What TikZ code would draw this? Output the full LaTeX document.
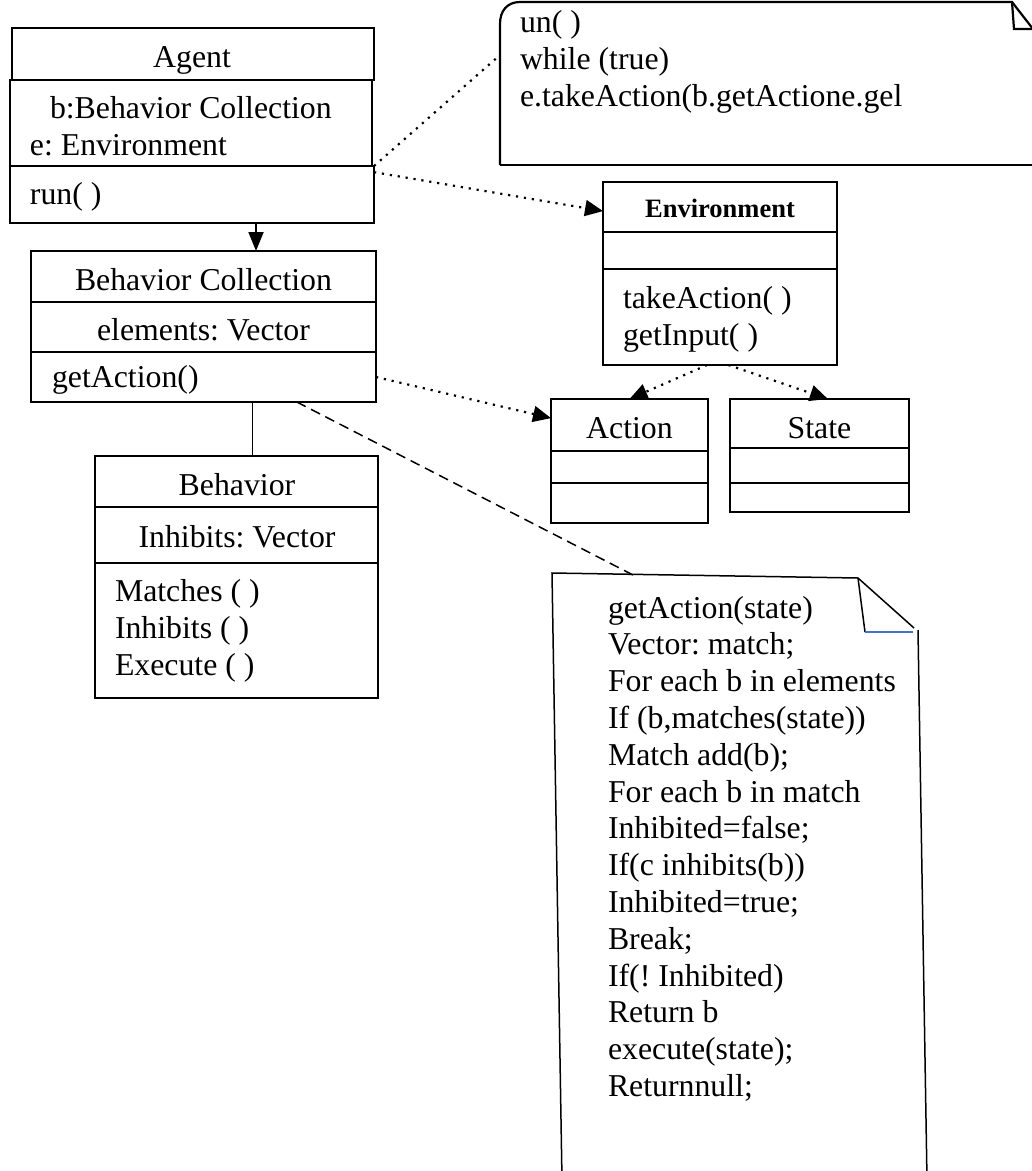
\documentclass[tikz,border=0pt]{standalone}
\usepackage{fontspec}
\setmainfont{Liberation Serif}
\usetikzlibrary{arrows.meta}
\frenchspacing

\begin{document}
\begin{tikzpicture}[x=1pt, y=-1pt]
\tikzstyle{every node}+=[inner sep=0pt, outer sep=0pt]
\tikzstyle{cls}=[draw, line width=1.4pt]
\tikzstyle{lbl}=[font=\fontsize{31.8}{37}\selectfont, anchor=base]
\tikzstyle{lblw}=[lbl, anchor=base west, align=left]
\tikzstyle{dep}=[line width=2.2pt, dash pattern=on 2.2pt off 5.8pt, -{Triangle[length=18pt, width=16pt]}]
\tikzstyle{note}=[line width=2.2pt]
\useasboundingbox (0,0) rectangle (1032,1171);
\clip (0,0) rectangle (1032,1171);

% Agent
\node[cls, minimum width=362pt, minimum height=52pt] (agentHead) at (193,54) {};
\node[cls, minimum width=362pt, minimum height=86pt] (agentAttr) at (191,123) {};
\node[cls, minimum width=364pt, minimum height=57pt] (agentOps) at (192,194.5) {};
\node[lbl] (agentName) at (192,67) {Agent};
\node[lblw] (agentB) at (50,118) {b:Behavior Collection};
\node[lblw] (agentE) at (30,155) {e: Environment};
\node[lblw] (agentRun) at (30,204) {run( )};

% Behavior Collection
\node[cls, minimum width=345pt, minimum height=51pt] (bcHead) at (203.5,276.5) {};
\node[cls, minimum width=345pt, minimum height=50pt] (bcAttr) at (203.5,327) {};
\node[cls, minimum width=345pt, minimum height=50pt] (bcOps) at (203.5,377) {};
\node[lbl] (bcName) at (203.5,290) {Behavior Collection};
\node[lbl] (bcElem) at (203.5,340) {elements: Vector};
\node[lblw] (bcGet) at (52,387) {getAction()};

% Behavior
\node[cls, minimum width=283pt, minimum height=51pt] (behHead) at (236.5,481.5) {};
\node[cls, minimum width=283pt, minimum height=56pt] (behAttr) at (236.5,535) {};
\node[cls, minimum width=283pt, minimum height=135pt] (behOps) at (236.5,630.5) {};
\node[lbl] (behName) at (237,495) {Behavior};
\node[lbl] (behInh) at (237,547) {Inhibits: Vector};
% base of a multi-line node is its last line
\node[lblw] (behMeth) at (115,675) {Matches ( )\\Inhibits ( )\\Execute ( )};

% Environment
\node[cls, minimum width=234pt, minimum height=50pt] (envHead) at (720,207) {};
\node[cls, minimum width=234pt, minimum height=37pt] (envAttr) at (720,250.5) {};
\node[cls, minimum width=234pt, minimum height=96pt] (envOps) at (720,317) {};
\node[lbl, font=\fontsize{26.5}{31}\selectfont\bfseries] (envName) at (720,217) {Environment};
\node[lblw] (envMeth) at (623,345) {takeAction( )\\getInput( )};

% Action and State
\node[cls, minimum width=157pt, minimum height=52pt] (actHead) at (629.5,425) {};
\node[cls, minimum width=157pt, minimum height=32pt] (actAttr) at (629.5,467) {};
\node[cls, minimum width=157pt, minimum height=40pt] (actOps) at (629.5,503) {};
\node[lbl] (actName) at (629.5,438) {Action};
\node[cls, minimum width=179pt, minimum height=49pt] (stHead) at (819.5,423.5) {};
\node[cls, minimum width=179pt, minimum height=35pt] (stAttr) at (819.5,465.5) {};
\node[cls, minimum width=179pt, minimum height=29pt] (stOps) at (819.5,497.5) {};
\node[lbl] (stName) at (819.5,438) {State};

% notes
\draw[note] (500,165) -- (500,24) .. controls (500,11) and (507,2) .. (520,2) -- (1012,2) -- (1040,38);
\draw[note] (1012,2) -- (1014,29) -- (1040,29);
\draw[note] (500,165) -- (1040,165);
\coordinate (runNote) at (500,55);
\node[lblw] (runText) at (520,106) {un( )\\while (true)\\e.takeAction(b.getActione.gel};

\draw[line width=1.5pt] (562,1180) -- (552,573) -- (858,578) -- (914,628);
\draw[line width=1.5pt] (918,630) -- (927,1180);
\draw[line width=1.5pt] (858,578) -- (865,632);
\draw[line width=1.2pt, color={rgb,255:red,68;green,114;blue,196}] (865,632) -- (913,632);
\coordinate (getNote) at (633,575);
\node[lblw, font=\fontsize{31.8}{36.8}\selectfont] (getText) at (608,1096.5) {getAction(state)\\Vector: match;\\For each b in elements\\If (b,matches(state))\\Match add(b);\\For each b in match\\Inhibited=false;\\If(c inhibits(b))\\Inhibited=true;\\Break;\\If(! Inhibited)\\Return b\\execute(state);\\Returnnull;};

% connectors
\draw[line width=1.8pt, -{Triangle[length=19pt, width=15pt]}] (agentOps.-24) -- (agentOps.-24 |- bcHead.north);
\draw[line width=1.6pt] (bcOps.-27.8) -- (bcOps.-27.8 |- behHead.north);
\draw[line width=1.5pt, dash pattern=on 10pt off 6pt] (bcOps.-15.6) -- (getNote);
\draw[line width=2.2pt, dash pattern=on 2.2pt off 5.8pt] (agentOps.north east) -- (runNote);
\draw[dep] (agentOps.7) -- (envHead.182);
\draw[dep] (bcOps.east) -- (actHead.175);
\draw[dep] (envOps.255) -- (actHead.north);
\draw[dep] (envOps.280) -- (stHead.71);
\end{tikzpicture}
\end{document}
